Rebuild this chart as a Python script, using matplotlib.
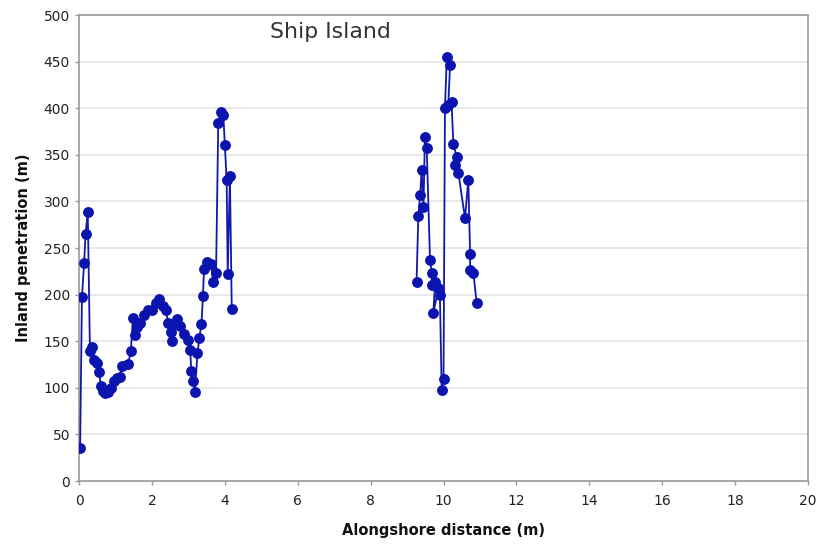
import matplotlib
matplotlib.use("Agg")
import matplotlib.pyplot as plt
import numpy as np

# western part of the island
dist_west = [0.03, 0.08, 0.14, 0.18, 0.24, 0.30, 0.35, 0.41, 0.50, 0.55, 0.60,
             0.65, 0.72, 0.80, 0.88, 0.95, 1.05, 1.12, 1.17, 1.35, 1.42, 1.48,
             1.54, 1.60, 1.68, 1.78, 1.90, 2.00, 2.10, 2.20, 2.30, 2.38, 2.45,
             2.52, 2.56, 2.62, 2.70, 2.78, 2.88, 2.98, 3.05, 3.08, 3.13, 3.18,
             3.25, 3.30, 3.36, 3.40, 3.43, 3.52, 3.62, 3.68, 3.76, 3.82, 3.90,
             3.96, 4.00, 4.05, 4.08, 4.14, 4.19]
pen_west = [35, 197, 234, 265, 289, 139, 144, 130, 127, 117, 102,
            97, 94, 96, 100, 107, 110, 112, 123, 126, 139, 175,
            157, 165, 170, 178, 183, 184, 191, 195, 188, 183, 170,
            160, 150, 168, 174, 166, 158, 151, 141, 118, 107, 96,
            137, 153, 169, 198, 228, 235, 233, 214, 223, 384, 396,
            393, 361, 323, 222, 327, 185]

# eastern part of the island
dist_east = [9.26, 9.31, 9.36, 9.40, 9.45, 9.49, 9.54, 9.63, 9.68, 9.68, 9.77,
             9.72, 9.86, 9.90, 9.95, 10.00, 10.04, 10.09, 10.18, 10.13, 10.22,
             10.27, 10.36, 10.32, 10.41, 10.59, 10.68, 10.73, 10.73, 10.82, 10.91]
pen_east = [214, 284, 307, 334, 294, 369, 357, 237, 223, 210, 214,
            180, 207, 200, 98, 109, 400, 455, 446, 403, 407,
            362, 348, 339, 330, 282, 323, 244, 226, 223, 191]

xticks = np.arange(0, 21, 2)
yticks = np.arange(0, 501, 50)

x = dist_west + [np.nan] + dist_east
y = pen_west + [np.nan] + pen_east

fig = plt.figure(figsize=(8.3, 5.44), dpi=100)
ax = fig.add_axes([0.0952, 0.1158, 0.8783, 0.8566])

ax.plot(x, y, color="#1218aa", lw=1.3, marker="o", ms=6.8,
        markerfacecolor="#0c14b0", markeredgecolor="#0c14b0", zorder=3)

ax.set_xlim(0, 20)
ax.set_ylim(0, 500)
ax.set_xticks(xticks)
ax.set_yticks(yticks)
ax.yaxis.grid(True, color="#e4e4e4", lw=1.2)
ax.set_axisbelow(True)
for s in ax.spines.values():
    s.set_color("#9a9a9a")
    s.set_linewidth(1.2)
ax.tick_params(colors="#9a9a9a", labelcolor="#222222", labelsize=10,
               length=3, width=1)
ax.tick_params(axis="x", pad=6)

ax.set_xlabel("Alongshore distance (m)", fontsize=10.5, fontweight="bold",
              color="#111111", labelpad=11)
ax.set_ylabel("Inland penetration (m)", fontsize=10.5, fontweight="bold",
              color="#111111", labelpad=9)
ax.text(0.262, 0.963, "Ship Island", transform=ax.transAxes, fontsize=15.8,
        color="#333333", ha="left", va="center")

fig.savefig("out.png", dpi=100)
